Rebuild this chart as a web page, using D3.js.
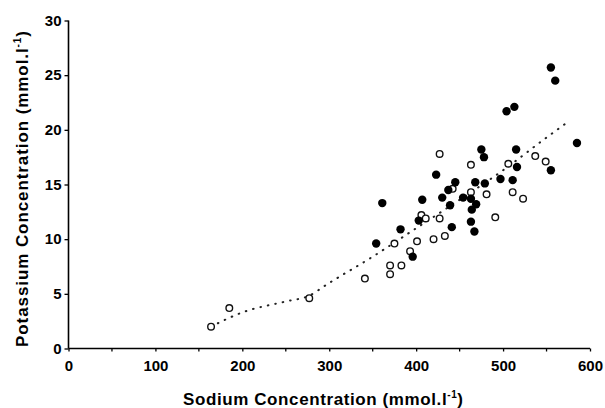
<!DOCTYPE html>
<html>
<head>
<meta charset="utf-8">
<script src="https://cdn.jsdelivr.net/npm/d3@7"></script>
<style>
  html, body { margin: 0; padding: 0; background: #fff; }
  svg { display: block; }
  text { font-family: "Liberation Sans", Arial, Helvetica, sans-serif; font-weight: bold; fill: #000; }
</style>
</head>
<body>
<svg id="chart" width="605" height="408"></svg>
<script>
// Closed circles: [sodium, potassium]
const filledSodium = [361, 407, 403, 382, 354, 396, 423, 445, 437, 468, 479, 497, 511, 454, 430, 463, 469, 439, 464, 463, 441, 467, 475, 478, 515, 516, 555, 585, 504, 513, 555, 560];
const filledPotassium = [13.3, 13.6, 11.7, 10.9, 9.6, 8.4, 15.9, 15.2, 14.5, 15.2, 15.1, 15.5, 15.4, 13.8, 13.8, 13.7, 13.2, 13.1, 12.7, 11.6, 11.1, 10.7, 18.2, 17.5, 18.2, 16.6, 16.3, 18.8, 21.7, 22.1, 25.7, 24.5];
// Open circles
const openSodium = [164, 185, 277, 341, 370, 370, 383, 393, 375, 401, 420, 433, 406, 411, 427, 442, 427, 463, 463, 481, 491, 506, 511, 523, 537, 549];
const openPotassium = [2.0, 3.7, 4.6, 6.4, 6.8, 7.6, 7.6, 8.9, 9.6, 9.8, 10.0, 10.3, 12.2, 11.9, 11.9, 14.6, 17.8, 16.8, 14.3, 14.1, 12.0, 16.9, 14.3, 13.7, 17.6, 17.1];
// Dotted trend line
const trendSodium = [164, 200, 250, 276, 300, 350, 400, 450, 500, 550, 576];
const trendPotassium = [2.0, 3.3, 4.3, 4.8, 6.0, 8.4, 11.0, 13.6, 16.3, 19.3, 20.8];

const xTicks = [0, 100, 200, 300, 400, 500, 600];
const xMinorTicks = [50, 150, 250, 350, 450, 550];
const yTicks = [0, 5, 10, 15, 20, 25, 30];

const svg = d3.select("#chart");
const x = d3.scaleLinear().domain([0, 600]).range([68.5, 590]);
const y = d3.scaleLinear().domain([0, 30]).range([348.5, 20.5]);

// Axes
const xAxis = d3.axisBottom(x).tickValues(xTicks).tickSize(3).tickPadding(9).tickFormat(d3.format("d"));
const gx = svg.append("g").attr("transform", `translate(0,${y(0)})`).call(xAxis);
gx.select(".domain").attr("stroke", "#000").attr("stroke-width", 1.6).attr("d", `M${x(0)},0H${x(600)}`);
gx.selectAll(".tick line").attr("stroke", "#000").attr("stroke-width", 1.3);
gx.selectAll(".tick text").style("font-size", "15px").style("font-family", "'Liberation Sans', Arial, sans-serif").style("font-weight", "bold");
gx.selectAll(".minor").data(xMinorTicks).enter().append("line")
  .attr("x1", d => x(d)).attr("x2", d => x(d)).attr("y1", 0).attr("y2", 3)
  .attr("stroke", "#000").attr("stroke-width", 1.3);

const yAxis = d3.axisLeft(y).tickValues(yTicks).tickSize(4).tickPadding(3).tickFormat(d3.format("d"));
const gy = svg.append("g").attr("transform", `translate(${x(0)},0)`).call(yAxis);
gy.select(".domain").attr("stroke", "#000").attr("stroke-width", 1.6).attr("d", `M0,${y(0)}V${y(30)}`);
gy.selectAll(".tick line").attr("stroke", "#000").attr("stroke-width", 1.3);
gy.selectAll(".tick text").style("font-size", "15px").style("font-family", "'Liberation Sans', Arial, sans-serif").style("font-weight", "bold");

// Trend line
const trend = trendSodium.map((s, i) => [s, trendPotassium[i]]);
svg.append("path")
  .datum(trend)
  .attr("fill", "none")
  .attr("stroke", "#222")
  .attr("stroke-width", 2)
  .attr("stroke-linecap", "round")
  .attr("stroke-dasharray", "0.6,7")
  .attr("d", d3.line().x(d => x(d[0])).y(d => y(d[1])).curve(d3.curveMonotoneX));

// Open circles
const open = openSodium.map((s, i) => [s, openPotassium[i]]);
svg.append("g").selectAll("circle").data(open).enter().append("circle")
  .attr("cx", d => x(d[0])).attr("cy", d => y(d[1])).attr("r", 3.3)
  .attr("fill", "#fff").attr("stroke", "#111").attr("stroke-width", 1.4);

// Filled circles
const filled = filledSodium.map((s, i) => [s, filledPotassium[i]]);
svg.append("g").selectAll("circle").data(filled).enter().append("circle")
  .attr("cx", d => x(d[0])).attr("cy", d => y(d[1])).attr("r", 4.2)
  .attr("fill", "#000");

// Axis titles
function fitTitle(t, target) {
  const w = t.node().getComputedTextLength ? t.node().getBBox().width : target;
  const n = t.text().length;
  if (w > 0 && n > 1) t.style("letter-spacing", ((target - w) / (n - 1)) + "px");
}
const xt = svg.append("text").attr("x", 183).attr("y", 405).style("font-size", "17px");
xt.append("tspan").text("Sodium Concentration (mmol.l");
xt.append("tspan").attr("dy", -7).style("font-size", "10px").text("-1");
xt.append("tspan").attr("dy", 7).text(")");
fitTitle(xt, 280);

const yt = svg.append("text").attr("transform", "translate(28,347) rotate(-90)").style("font-size", "17px");
yt.append("tspan").text("Potassium Concentration (mmol.l");
yt.append("tspan").attr("dy", -7).style("font-size", "10px").text("-1");
yt.append("tspan").attr("dy", 7).text(")");
fitTitle(yt, 316);
</script>
</body>
</html>
